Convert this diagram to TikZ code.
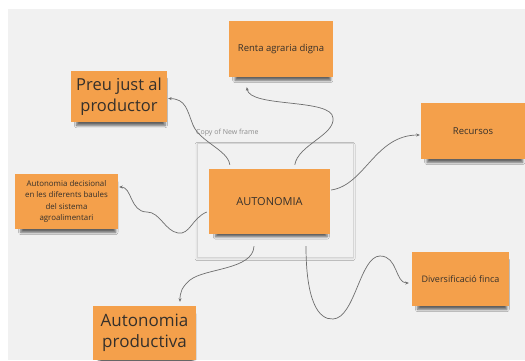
\documentclass[tikz,border=0pt]{standalone}
\usepackage{fontspec}
\setmainfont{Open Sans}
\usetikzlibrary{calc,shadows.blur,arrows.meta}
\definecolor{notefill}{HTML}{F4A04B}
\definecolor{notetext}{HTML}{35302B}
\definecolor{canvasbg}{HTML}{F1F1F1}
\definecolor{conncol}{HTML}{6E6E6E}
\definecolor{framecol}{HTML}{D6D6D6}
\tikzset{
  note/.style={fill=notefill, draw=none, inner sep=0pt, align=center, text=notetext,
    blur shadow={shadow xshift=2pt, shadow yshift=-6pt, shadow scale=0.92,
      shadow blur steps=5, shadow blur radius=2.5pt, shadow opacity=60}},
  conn/.style={draw=conncol, line width=0.7pt, -{Stealth[length=3.5pt,width=3pt]}},
}
\begin{document}
\begin{tikzpicture}[x=1pt,y=-1pt]
\useasboundingbox (0,0) rectangle (525,360);
\fill[white] (0,0) rectangle (525,360);
\fill[canvasbg] (8,9) rectangle (525,360);

% frame
\node[draw=framecol, fill=canvasbg, line width=0.7pt, minimum width=156pt, minimum height=114pt, inner sep=0pt,
  blur shadow={shadow xshift=0pt, shadow yshift=-1.5pt, shadow blur steps=4, shadow blur radius=2pt, shadow opacity=12}] (frame) at (275,200) {};
\node[anchor=south west, inner sep=0pt, text=black!45, font=\fontsize{7}{8}\selectfont] (framelabel) at (196,136) {Copy of New frame};

% notes
\node[note, minimum width=104pt, minimum height=56pt, font=\fontsize{9.5}{11}\selectfont] (renta) at (281,49) {Renta agraria digna};
\node[note, minimum width=96pt, minimum height=51pt, font=\fontsize{16.5}{21}\selectfont] (preu) at (119,96.5) {Preu just al\\productor};
\node[note, minimum width=104pt, minimum height=56pt, font=\fontsize{9.5}{11}\selectfont] (recursos) at (473,131) {Recursos};
\node[note, minimum width=121pt, minimum height=65pt, font=\fontsize{11}{13}\selectfont] (auto) at (269.5,201.5) {AUTONOMIA};
\node[note, minimum width=103pt, minimum height=55pt, font=\fontsize{7.9}{11.5}\selectfont] (decis) at (66.5,201.5) {Autonomia decisional\\en les diferents baules\\del sistema\\agroalimentari};
\node[note, minimum width=97pt, minimum height=54pt, font=\fontsize{9}{11}\selectfont] (divers) at (460.5,279) {Diversificació finca};
\node[note, minimum width=103pt, minimum height=54pt, font=\fontsize{17}{20.5}\selectfont] (prod) at (144.5,333) {Autonomia\\productiva};

% connectors
\draw[conn] ($(auto.north west)+(21,-4)$) .. controls (228,150) and (200,142) .. (193,125) .. controls (187,110) and (186,99) .. ($(preu.east)+(1,2)$);
\draw[conn] ($(auto.north west)+(86,-4)$) .. controls (298,145) and (335,135) .. (333,118) .. controls (332,98) and (250,108) .. ($(renta.south west)+(18,10)$);
\draw[conn] ($(auto.east)+(1,-11.5)$) .. controls (365,185) and (375,135) .. ($(recursos.west)+(-1,4)$);
\draw[conn] ($(auto.west)+(-2,10.5)$) .. controls (192,218) and (190,235) .. (178,233) .. controls (165,231) and (160,212) .. (147,212) .. controls (130,212) and (132,187) .. ($(decis.east)+(1,-14.5)$);
\draw[conn] ($(auto.south)+(-15.5,12)$) .. controls (253,270) and (205,268) .. (190,280) .. controls (182,287) and (180,292) .. ($(prod.north)+(35.5,-4)$);
\draw[conn] ($(auto.south)+(36.5,12)$) .. controls (306,300) and (318,320) .. (333,319) .. controls (355,318) and (360,256) .. (380,256) .. controls (398,256) and (395,283) .. ($(divers.west)+(-3,4)$);
\end{tikzpicture}
\end{document}
